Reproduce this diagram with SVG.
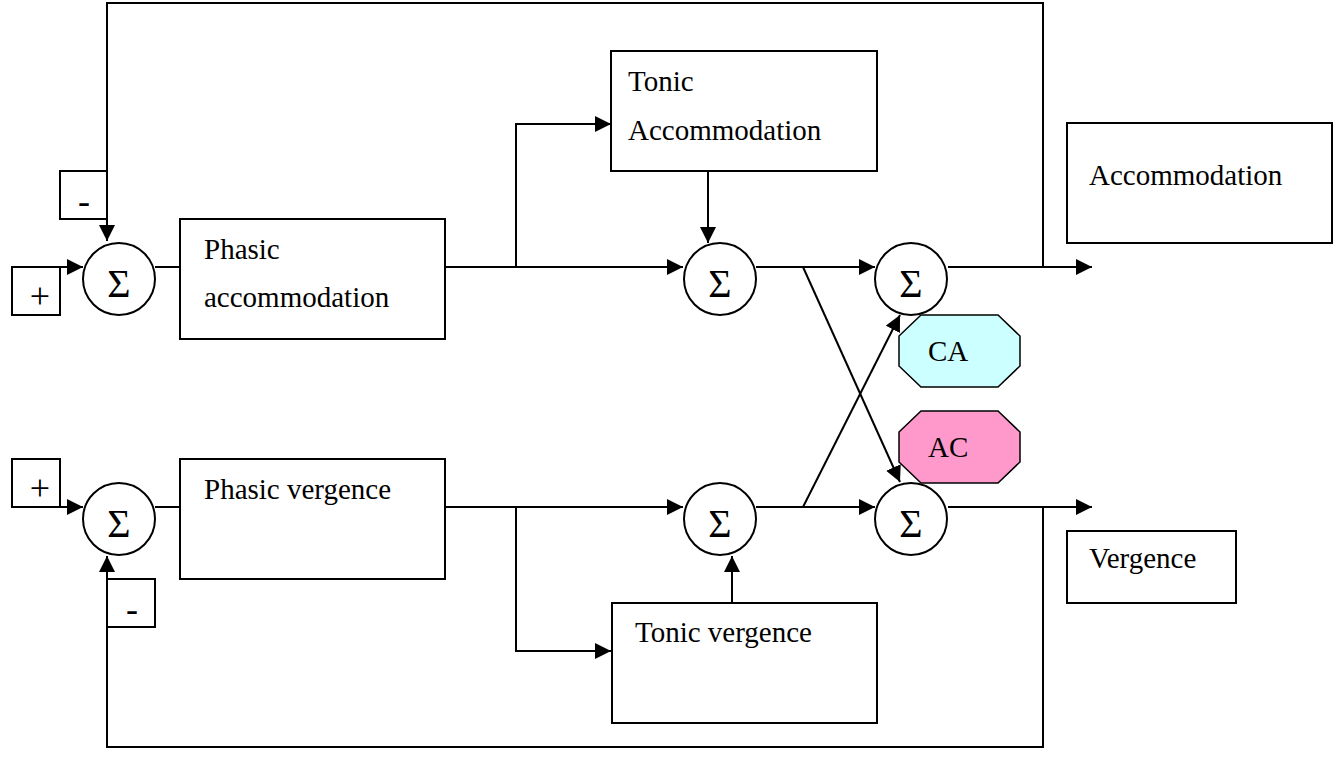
<svg xmlns="http://www.w3.org/2000/svg" width="1339" height="772" viewBox="0 0 1339 772">
<style>
.box{fill:#fff;stroke:#000;stroke-width:2}
.sum{fill:#fff;stroke:#000;stroke-width:2}
.ln{fill:none;stroke:#000;stroke-width:2}
.t{font-family:"Liberation Serif",serif;font-size:29px;fill:#000}
.sg{font-family:"Liberation Serif",serif;font-size:40px;fill:#000;text-anchor:middle}
.sm{font-family:"Liberation Serif",serif;font-size:36px;fill:#000;text-anchor:middle}
</style>
<defs>
<marker id="ah" markerUnits="userSpaceOnUse" markerWidth="16" markerHeight="16" viewBox="0 0 16 16" refX="16" refY="8" orient="auto">
<path d="M0,0 L16,8 L0,16 Z" fill="#000"/>
</marker>
</defs>
<g id="connectors">
<path class="ln" d="M1043,267 V3 H107 V241" marker-end="url(#ah)"/>
<path class="ln" d="M60,267 H83" marker-end="url(#ah)"/>
<path class="ln" d="M155,267 H180"/>
<path class="ln" d="M445,267 H683" marker-end="url(#ah)"/>
<path class="ln" d="M516,267 V124 H611" marker-end="url(#ah)"/>
<path class="ln" d="M708,171 V243" marker-end="url(#ah)"/>
<path class="ln" d="M756,267 H875" marker-end="url(#ah)"/>
<path class="ln" d="M948,267 H1092" marker-end="url(#ah)"/>
<path class="ln" d="M803,267 L900,482" marker-end="url(#ah)"/>
<path class="ln" d="M803,507 L900,315" marker-end="url(#ah)"/>
<path class="ln" d="M1043,507 V747 H107 V556" marker-end="url(#ah)"/>
<path class="ln" d="M60,507 H83" marker-end="url(#ah)"/>
<path class="ln" d="M155,507 H180"/>
<path class="ln" d="M445,507 H683" marker-end="url(#ah)"/>
<path class="ln" d="M516,507 V651 H611" marker-end="url(#ah)"/>
<path class="ln" d="M732,603 V556" marker-end="url(#ah)"/>
<path class="ln" d="M756,507 H875" marker-end="url(#ah)"/>
<path class="ln" d="M948,507 H1092" marker-end="url(#ah)"/>
</g>
<g id="minus-top"><rect class="box" x="60" y="171" width="47" height="48"/><text class="sm" x="84" y="213">-</text></g>
<g id="plus-top"><rect class="box" x="12" y="267" width="48" height="48"/><text class="sm" x="40" y="308">+</text></g>
<g id="sum1"><circle class="sum" cx="119" cy="279" r="36"/><text class="sg" x="119" y="297">Σ</text></g>
<g id="phasic-acc"><rect class="box" x="180" y="219" width="265" height="120"/><text class="t" x="204" y="259">Phasic</text><text class="t" x="204" y="307">accommodation</text></g>
<g id="tonic-acc"><rect class="box" x="611" y="51" width="266" height="120"/><text class="t" x="628" y="91">Tonic</text><text class="t" x="628" y="140">Accommodation</text></g>
<g id="sum2"><circle class="sum" cx="720" cy="279" r="36"/><text class="sg" x="720" y="297">Σ</text></g>
<g id="sum3"><circle class="sum" cx="911" cy="279" r="36"/><text class="sg" x="911" y="297">Σ</text></g>
<g id="accommodation"><rect class="box" x="1067" y="123" width="265" height="120"/><text class="t" x="1089" y="185">Accommodation</text></g>
<g id="ca"><path d="M921,315 H998 L1020,336 V366 L998,387 H921 L899,366 V336 Z" fill="#CCFFFF" stroke="#000" stroke-width="1.5"/><text class="t" x="928" y="361">CA</text></g>
<g id="ac"><path d="M921,411 H998 L1020,432 V462 L998,483 H921 L899,462 V432 Z" fill="#FF99CC" stroke="#000" stroke-width="1.5"/><text class="t" x="928" y="457">AC</text></g>
<g id="plus-bot"><rect class="box" x="12" y="459" width="48" height="48"/><text class="sm" x="40" y="500">+</text></g>
<g id="sum4"><circle class="sum" cx="119" cy="519" r="36"/><text class="sg" x="119" y="537">Σ</text></g>
<g id="minus-bot"><rect class="box" x="107" y="579" width="48" height="48"/><text class="sm" x="132" y="621">-</text></g>
<g id="phasic-verg"><rect class="box" x="180" y="459" width="265" height="120"/><text class="t" x="204" y="499">Phasic vergence</text></g>
<g id="sum5"><circle class="sum" cx="720" cy="519" r="36"/><text class="sg" x="720" y="537">Σ</text></g>
<g id="sum6"><circle class="sum" cx="911" cy="519" r="36"/><text class="sg" x="911" y="537">Σ</text></g>
<g id="tonic-verg"><rect class="box" x="612" y="603" width="265" height="120"/><text class="t" x="635" y="642">Tonic vergence</text></g>
<g id="vergence"><rect class="box" x="1067" y="531" width="169" height="72"/><text class="t" x="1089" y="568">Vergence</text></g>
</svg>
